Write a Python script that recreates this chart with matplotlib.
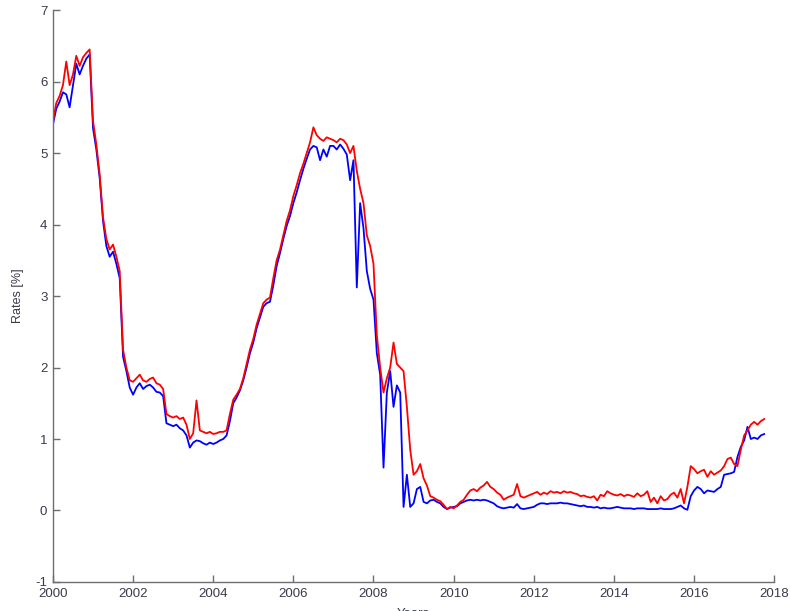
import matplotlib
matplotlib.use("Agg")
import matplotlib.pyplot as plt
import numpy as np

plt.rcParams["font.family"] = ["Liberation Sans", "DejaVu Sans"]
plt.rcParams["axes.unicode_minus"] = False

# monthly rate observations, Jan 2000 .. Oct 2017
start_year = 2000

rates_red = [
    5.45, 5.70, 5.80, 5.95, 6.28, 5.95, 6.10, 6.36, 6.22, 6.34, 6.40, 6.45,  # 2000
    5.45, 5.12, 4.70, 4.10, 3.80, 3.65, 3.72, 3.55, 3.35, 2.25, 2.00, 1.82,  # 2001
    1.80, 1.85, 1.90, 1.82, 1.80, 1.84, 1.86, 1.78, 1.76, 1.70, 1.35, 1.32,  # 2002
    1.30, 1.32, 1.28, 1.30, 1.20, 1.00, 1.08, 1.54, 1.12, 1.10, 1.08, 1.10,  # 2003
    1.07, 1.08, 1.10, 1.10, 1.12, 1.35, 1.55, 1.62, 1.70, 1.85, 2.05, 2.25,  # 2004
    2.40, 2.60, 2.75, 2.90, 2.95, 2.98, 3.25, 3.50, 3.65, 3.85, 4.05, 4.20,  # 2005
    4.40, 4.55, 4.72, 4.85, 5.00, 5.15, 5.36, 5.25, 5.20, 5.17, 5.22, 5.20,  # 2006
    5.18, 5.15, 5.20, 5.18, 5.12, 5.00, 5.10, 4.75, 4.50, 4.30, 3.85, 3.70,  # 2007
    3.45, 2.45, 2.00, 1.65, 1.85, 2.00, 2.35, 2.05, 2.00, 1.95, 1.45, 0.85,  # 2008
    0.50, 0.55, 0.65, 0.45, 0.35, 0.20, 0.18, 0.15, 0.13, 0.08, 0.02, 0.05,  # 2009
    0.03, 0.07, 0.12, 0.15, 0.22, 0.28, 0.30, 0.27, 0.32, 0.35, 0.40, 0.33,  # 2010
    0.30, 0.25, 0.22, 0.15, 0.18, 0.20, 0.22, 0.37, 0.20, 0.18, 0.20, 0.22,  # 2011
    0.24, 0.26, 0.22, 0.25, 0.23, 0.27, 0.25, 0.26, 0.24, 0.27, 0.25, 0.26,  # 2012
    0.24, 0.23, 0.20, 0.21, 0.19, 0.18, 0.20, 0.14, 0.22, 0.20, 0.27, 0.24,  # 2013
    0.22, 0.21, 0.23, 0.20, 0.22, 0.21, 0.19, 0.24, 0.20, 0.22, 0.27, 0.12,  # 2014
    0.18, 0.10, 0.20, 0.14, 0.16, 0.22, 0.25, 0.18, 0.30, 0.10, 0.33, 0.62,  # 2015
    0.58, 0.52, 0.55, 0.57, 0.47, 0.55, 0.50, 0.53, 0.56, 0.62, 0.72, 0.74,  # 2016
    0.65, 0.62, 0.85, 1.05, 1.12, 1.20, 1.24, 1.20, 1.25, 1.28,              # 2017
]

rates_blue = [
    5.40, 5.62, 5.72, 5.85, 5.82, 5.64, 5.95, 6.25, 6.10, 6.22, 6.32, 6.38,  # 2000
    5.35, 5.05, 4.65, 4.05, 3.70, 3.55, 3.62, 3.45, 3.25, 2.15, 1.95, 1.72,  # 2001
    1.62, 1.72, 1.78, 1.70, 1.74, 1.76, 1.72, 1.66, 1.65, 1.60, 1.22, 1.20,  # 2002
    1.18, 1.20, 1.15, 1.12, 1.05, 0.88, 0.95, 0.98, 0.97, 0.94, 0.92, 0.95,  # 2003
    0.93, 0.95, 0.98, 1.00, 1.05, 1.25, 1.50, 1.58, 1.68, 1.82, 2.00, 2.20,  # 2004
    2.35, 2.55, 2.70, 2.85, 2.90, 2.92, 3.15, 3.42, 3.60, 3.80, 3.98, 4.12,  # 2005
    4.30, 4.45, 4.62, 4.78, 4.92, 5.05, 5.10, 5.08, 4.90, 5.05, 4.95, 5.10,  # 2006
    5.10, 5.05, 5.12, 5.06, 4.98, 4.62, 4.90, 3.12, 4.30, 3.95, 3.35, 3.10,  # 2007
    2.95, 2.20, 1.90, 0.60, 1.65, 1.95, 1.45, 1.75, 1.65, 0.05, 0.50, 0.05,  # 2008
    0.10, 0.30, 0.33, 0.12, 0.10, 0.14, 0.15, 0.12, 0.10, 0.05, 0.02, 0.04,  # 2009
    0.05, 0.06, 0.10, 0.12, 0.14, 0.15, 0.14, 0.15, 0.14, 0.15, 0.14, 0.12,  # 2010
    0.10, 0.06, 0.04, 0.03, 0.04, 0.05, 0.04, 0.09, 0.03, 0.02, 0.03, 0.04,  # 2011
    0.05, 0.08, 0.10, 0.10, 0.09, 0.10, 0.10, 0.10, 0.11, 0.10, 0.10, 0.09,  # 2012
    0.08, 0.07, 0.06, 0.07, 0.05, 0.05, 0.04, 0.05, 0.03, 0.04, 0.03, 0.03,  # 2013
    0.04, 0.05, 0.04, 0.03, 0.03, 0.03, 0.02, 0.03, 0.03, 0.03, 0.02, 0.02,  # 2014
    0.02, 0.02, 0.03, 0.02, 0.02, 0.02, 0.03, 0.05, 0.07, 0.03, 0.01, 0.20,  # 2015
    0.28, 0.33, 0.30, 0.24, 0.28, 0.27, 0.26, 0.30, 0.33, 0.50, 0.51, 0.52,  # 2016
    0.54, 0.75, 0.89, 0.98, 1.17, 1.00, 1.02, 1.00, 1.05, 1.07,              # 2017
]

year_ticks = list(range(2000, 2019, 2))
rate_ticks = list(range(-1, 8))

t = start_year + np.arange(len(rates_red)) / 12.0

fig = plt.figure(figsize=(7.9, 6.11), dpi=100)
ax = fig.add_axes([0.067, 0.0475, 0.913, 0.936])

ax.plot(t, rates_blue, color="blue", lw=1.3)
ax.plot(t, rates_red, color="red", lw=1.3)

ax.set_xlim(2000, 2018)
ax.set_ylim(-1, 7)
ax.set_xticks(year_ticks)
ax.set_yticks(rate_ticks)

for side in ("top", "right"):
    ax.spines[side].set_visible(False)
for side in ("left", "bottom"):
    ax.spines[side].set_color("#6e6e6e")
    ax.spines[side].set_linewidth(1.0)

ax.tick_params(direction="in", length=5, width=1, color="#6e6e6e",
               labelsize=9.5, labelcolor="#3a3a4a", pad=4)
ax.set_ylabel("Rates [%]", fontsize=9, color="#3a3a4a", labelpad=8)
ax.set_xlabel("Years", fontsize=9.5, color="#3a3a4a", labelpad=6)

plt.savefig("out.png", dpi=100)
plt.close()
